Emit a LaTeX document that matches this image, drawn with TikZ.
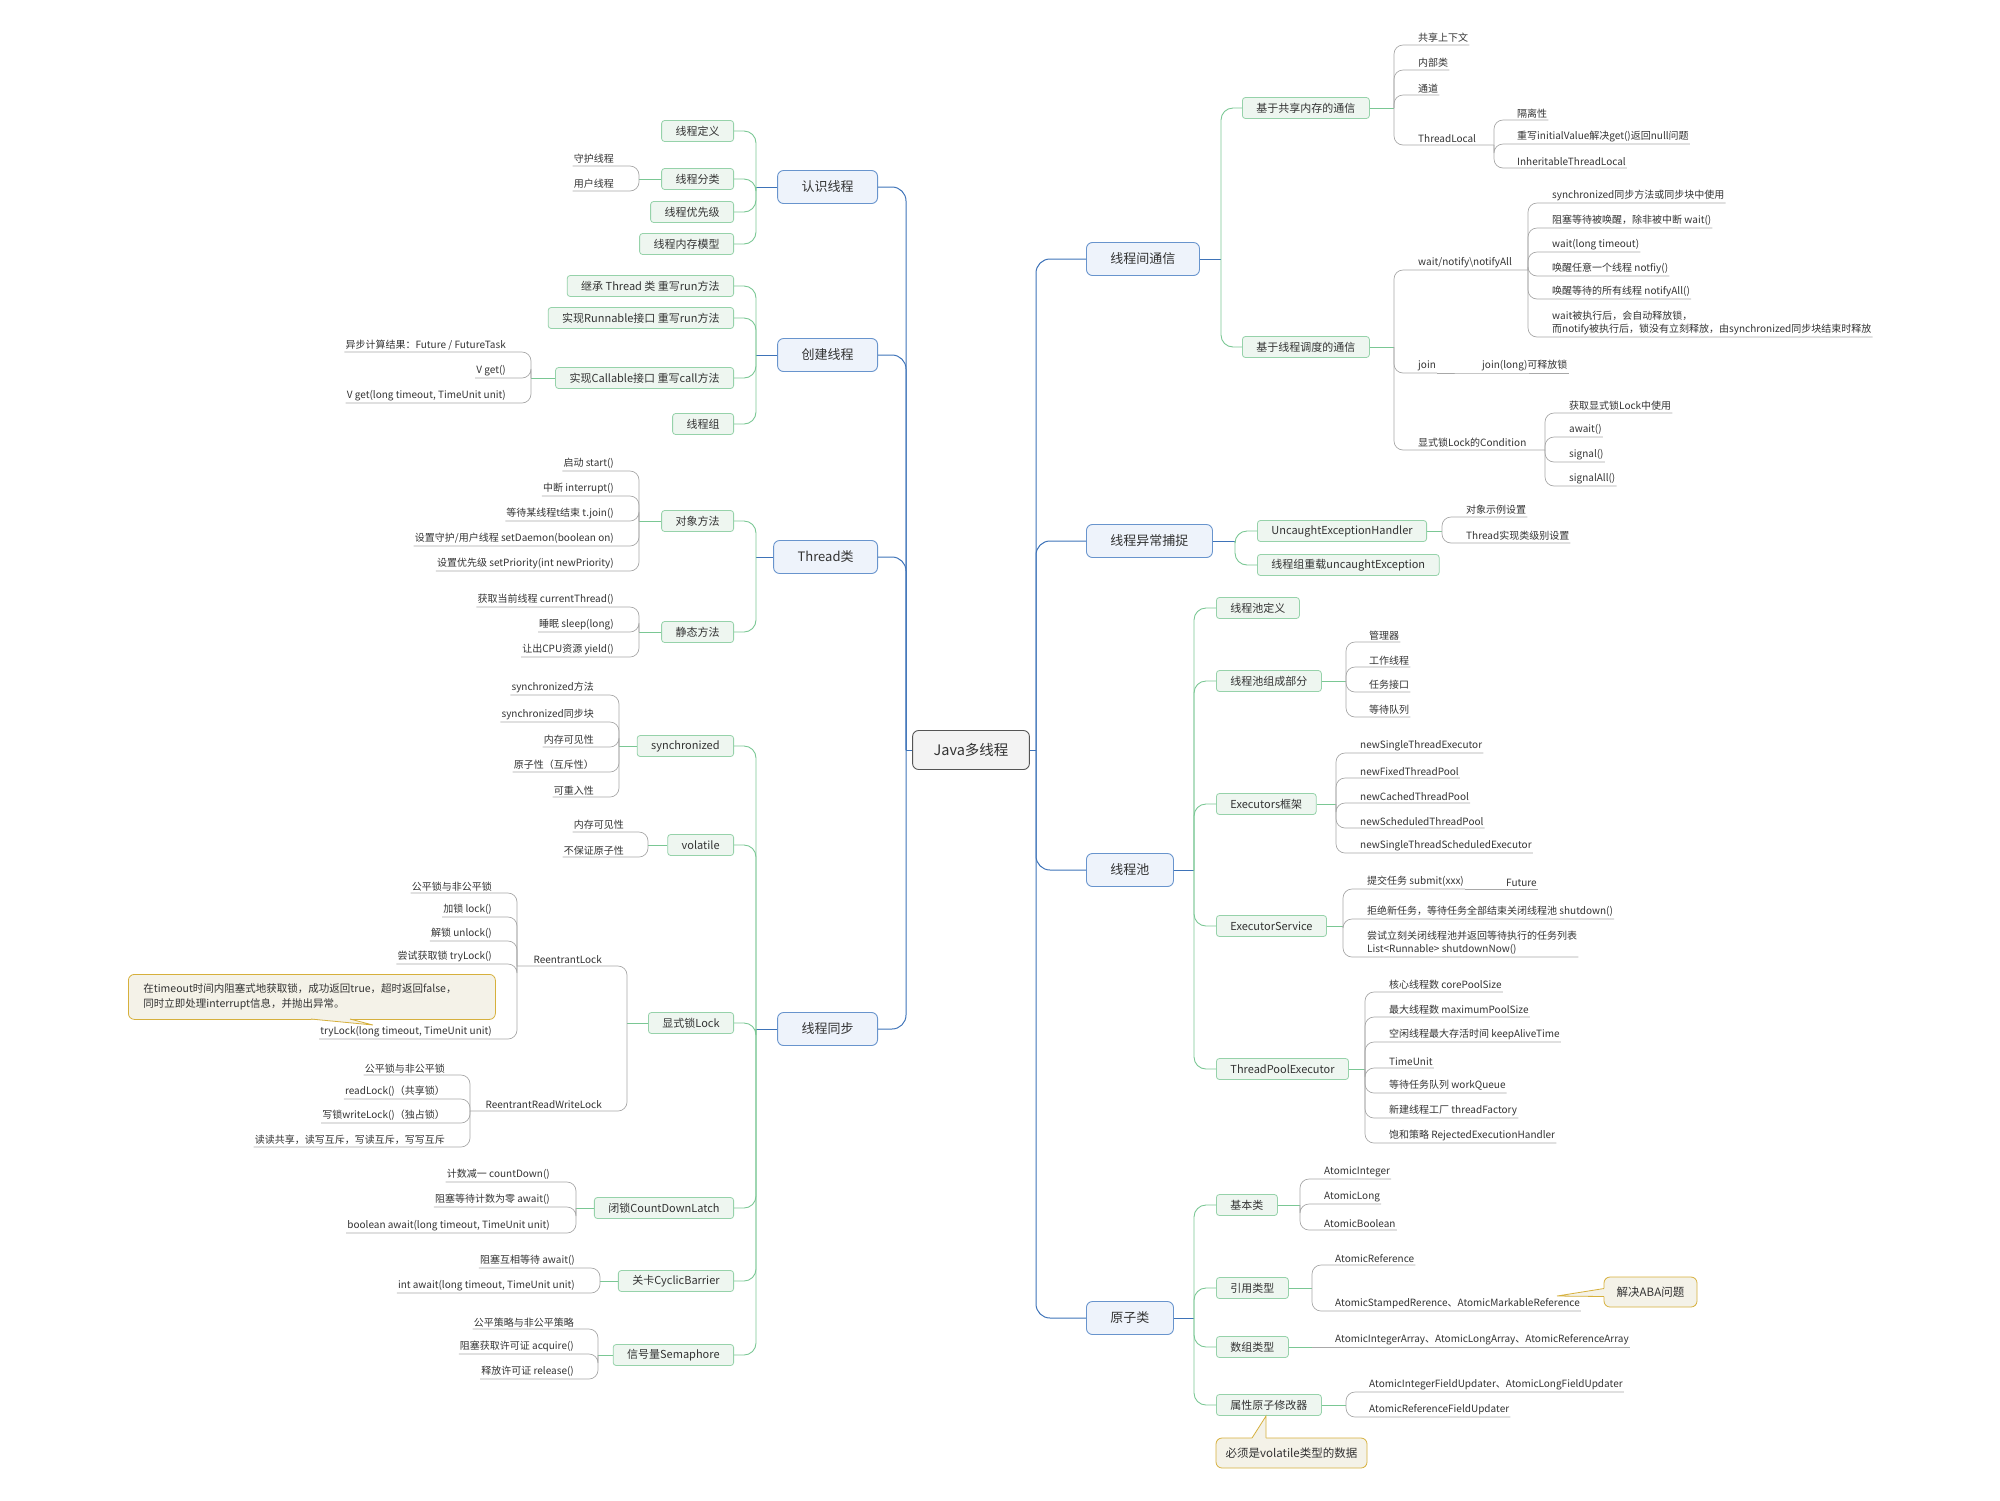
\documentclass[tikz,border=0pt]{standalone}
\usepackage{fontspec}
\setmainfont{Noto Sans CJK SC}
\usepackage{tikz}
\usepackage{xcolor}
\definecolor{txt}{RGB}{51,51,51}
\definecolor{blueln}{RGB}{62,115,184}
\definecolor{bluebd}{RGB}{104,148,205}
\definecolor{bluebg}{RGB}{238,243,251}
\definecolor{greenln}{RGB}{122,199,148}
\definecolor{greenbd}{RGB}{150,210,170}
\definecolor{greenbg}{RGB}{238,246,240}
\definecolor{greyln}{RGB}{168,168,168}
\definecolor{rootbd}{RGB}{85,85,85}
\definecolor{rootbg}{RGB}{243,243,243}
\definecolor{notebd}{RGB}{214,176,60}
\definecolor{notebg}{RGB}{244,242,232}

\begin{document}
\begin{tikzpicture}[x=1pt,y=-1pt,every node/.style={text=txt},
 rootbox/.style={draw=rootbd,fill=rootbg,rounded corners=6pt,line width=0.9pt,inner xsep=21pt,minimum height=39pt,font=\fontsize{14.5}{17}\selectfont},
 mainbox/.style={draw=bluebd,fill=bluebg,rounded corners=6pt,line width=0.9pt,inner xsep=24pt,minimum height=33pt,font=\fontsize{13}{15}\selectfont},
 subbox/.style={draw=greenbd,fill=greenbg,rounded corners=3pt,line width=0.8pt,inner xsep=14pt,minimum height=21pt,font=\fontsize{11}{13}\selectfont},
 leaf/.style={inner xsep=1pt,inner ysep=2pt,align=left,font=\fontsize{10}{13}\selectfont},
 notebox/.style={draw=notebd,fill=notebg,rounded corners=6pt,line width=0.8pt,align=left},
 mainline/.style={draw=blueln,line width=1pt,rounded corners=14pt},
 subline/.style={draw=greenln,line width=0.9pt,rounded corners=12pt},
 leafline/.style={draw=greyln,line width=0.7pt,rounded corners=9pt}]
\useasboundingbox (0,0) rectangle (2000,1500);

% root
\node[rootbox] (root) at (971,750) {Java多线程};
\draw[mainline] (root.west) -- (906,750) coordinate (lt);
\draw[mainline] (root.east) -- (1036,750) coordinate (rt);

% left main branches
\node[mainbox,anchor=east] (know) at (878,187) {认识线程};
\node[mainbox,anchor=east] (create) at (878,355) {创建线程};
\node[mainbox,anchor=east] (thread) at (878,557) {Thread类};
\node[mainbox,anchor=east] (sync) at (878,1029) {线程同步};
\foreach \m in {know,create,thread,sync}
  \draw[mainline] (lt) |- (\m.east);

% right main branches
\node[mainbox,anchor=west] (comm) at (1086,259) {线程间通信};
\node[mainbox,anchor=west] (catch) at (1086,541) {线程异常捕捉};
\node[mainbox,anchor=west] (pool) at (1086,870) {线程池};
\node[mainbox,anchor=west] (atomic) at (1086,1318) {原子类};
\foreach \m in {comm,catch,pool,atomic}
  \draw[mainline] (rt) |- (\m.west);

% 认识线程
\draw[mainline] (know.west) -- (756,187) coordinate (fknow);
\foreach \yy/\lbl [count=\i] in {131/线程定义,179/线程分类,212/线程优先级,244/线程内存模型}{
  \node[subbox,anchor=east] (know\i) at (734,\yy) {\lbl};
  \draw[subline] (fknow) |- (know\i.east);
}
\draw[subline] (know2.west) -- (639,179) coordinate (fsort);
\foreach \yy/\lbl [count=\i] in {166/守护线程,191/用户线程}{
  \node[leaf,anchor=south east] (sort\i) at (615,\yy) {\lbl};
  \draw[leafline] (fsort) |- (sort\i.south east) -- (sort\i.south west);
}

% 创建线程
\draw[mainline] (create.west) -- (756,355) coordinate (fcreate);
\foreach \yy/\lbl [count=\i] in {286/继承 Thread 类 重写run方法,318/实现Runnable接口 重写run方法,378/实现Callable接口 重写call方法,424/线程组}{
  \node[subbox,anchor=east] (create\i) at (734,\yy) {\lbl};
  \draw[subline] (fcreate) |- (create\i.east);
}
\draw[subline] (create3.west) -- (531,378) coordinate (fcall);
\foreach \yy/\lbl [count=\i] in {352/{异步计算结果：Future / FutureTask},378/V get(),403/{V get(long timeout, TimeUnit unit)}}{
  \node[leaf,anchor=south east] (call\i) at (507,\yy) {\lbl};
  \draw[leafline] (fcall) |- (call\i.south east) -- (call\i.south west);
}

% Thread类
\draw[mainline] (thread.west) -- (756,557) coordinate (fthread);
\foreach \yy/\lbl [count=\i] in {521/对象方法,632/静态方法}{
  \node[subbox,anchor=east] (thread\i) at (734,\yy) {\lbl};
  \draw[subline] (fthread) |- (thread\i.east);
}
\draw[subline] (thread1.west) -- (639,521) coordinate (fobj);
\foreach \yy/\lbl [count=\i] in {471/启动 start(),496/中断 interrupt(),521/等待某线程t结束 t.join(),546/{设置守护/用户线程 setDaemon(boolean on)},571/设置优先级 setPriority(int newPriority)}{
  \node[leaf,anchor=south east] (obj\i) at (615,\yy) {\lbl};
  \draw[leafline] (fobj) |- (obj\i.south east) -- (obj\i.south west);
}
\draw[subline] (thread2.west) -- (639,632) coordinate (fstatic);
\foreach \yy/\lbl [count=\i] in {607/获取当前线程 currentThread(),632/睡眠 sleep(long),657/让出CPU资源 yield()}{
  \node[leaf,anchor=south east] (static\i) at (615,\yy) {\lbl};
  \draw[leafline] (fstatic) |- (static\i.south east) -- (static\i.south west);
}

% 线程同步
\draw[mainline] (sync.west) -- (756,1029) coordinate (fsync);
\foreach \yy/\lbl [count=\i] in {746/synchronized,845/volatile,1023/显式锁Lock,1208/闭锁CountDownLatch,1281/关卡CyclicBarrier,1355/信号量Semaphore}{
  \node[subbox,anchor=east] (sync\i) at (734,\yy) {\lbl};
  \draw[subline] (fsync) |- (sync\i.east);
}
\draw[subline] (sync1.west) -- (619,746) coordinate (fsyn);
\foreach \yy/\lbl [count=\i] in {695/synchronized方法,722/synchronized同步块,747/内存可见性,772/原子性（互斥性）,797/可重入性}{
  \node[leaf,anchor=south east] (syn\i) at (595,\yy) {\lbl};
  \draw[leafline] (fsyn) |- (syn\i.south east) -- (syn\i.south west);
}
\draw[subline] (sync2.west) -- (648,845) coordinate (fvol);
\foreach \yy/\lbl [count=\i] in {832/内存可见性,857/不保证原子性}{
  \node[leaf,anchor=south east] (vol\i) at (625,\yy) {\lbl};
  \draw[leafline] (fvol) |- (vol\i.south east) -- (vol\i.south west);
}
\draw[subline] (sync3.west) -- (627,1023) coordinate (flock);
\node[leaf,anchor=south east] (rlock) at (603,966) {ReentrantLock};
\node[leaf,anchor=south east] (rwlock) at (603,1111) {ReentrantReadWriteLock};
\draw[leafline] (flock) |- (rlock.south east) -- (517,966) coordinate (frlock);
\draw[leafline] (flock) |- (rwlock.south east) -- (470,1111) coordinate (frwlock);
\foreach \yy/\lbl [count=\i] in {893/公平锁与非公平锁,917/加锁 lock(),941/解锁 unlock(),964/尝试获取锁 tryLock(),1039/{tryLock(long timeout, TimeUnit unit)}}{
  \node[leaf,anchor=south east] (rl\i) at (493,\yy) {\lbl};
  \draw[leafline] (frlock) |- (rl\i.south east) -- (rl\i.south west);
}
\foreach \yy/\lbl [count=\i] in {1075/公平锁与非公平锁,1099/readLock()（共享锁）,1123/写锁writeLock()（独占锁）,1147/读读共享，读写互斥，写读互斥，写写互斥}{
  \node[leaf,anchor=south east] (rw\i) at (446,\yy) {\lbl};
  \draw[leafline] (frwlock) |- (rw\i.south east) -- (rw\i.south west);
}
\node[notebox,anchor=north west,text width=337pt,inner xsep=15pt,minimum height=45pt,font=\fontsize{10.5}{15}\selectfont] (trynote) at (128,974)
  {在timeout时间内阻塞式地获取锁，成功返回true，超时返回false，\\同时立即处理interrupt信息，并抛出异常。};
\fill[notebg] (311,1016) -- (311,1019.4) -- (373,1025) -- (350,1019.4) -- (350,1016) -- cycle;
\draw[notebd,line width=0.8pt] (311,1019) -- (373,1025) -- (350,1019);
\draw[subline] (sync4.west) -- (576,1208) coordinate (flatch);
\foreach \yy/\lbl [count=\i] in {1182/计数减一 countDown(),1207/阻塞等待计数为零 await(),1233/{boolean await(long timeout, TimeUnit unit)}}{
  \node[leaf,anchor=south east] (latch\i) at (551,\yy) {\lbl};
  \draw[leafline] (flatch) |- (latch\i.south east) -- (latch\i.south west);
}
\draw[subline] (sync5.west) -- (600,1281) coordinate (fbar);
\foreach \yy/\lbl [count=\i] in {1268/阻塞互相等待 await(),1293/{int await(long timeout,  TimeUnit unit)}}{
  \node[leaf,anchor=south east] (bar\i) at (576,\yy) {\lbl};
  \draw[leafline] (fbar) |- (bar\i.south east) -- (bar\i.south west);
}
\draw[subline] (sync6.west) -- (598,1355) coordinate (fsem);
\foreach \yy/\lbl [count=\i] in {1329/公平策略与非公平策略,1354/阻塞获取许可证 acquire(),1379/释放许可证 release()}{
  \node[leaf,anchor=south east] (sem\i) at (575,\yy) {\lbl};
  \draw[leafline] (fsem) |- (sem\i.south east) -- (sem\i.south west);
}

% 线程间通信
\draw[mainline] (comm.east) -- (1221,259) coordinate (fcomm);
\foreach \yy/\lbl [count=\i] in {108/基于共享内存的通信,347/基于线程调度的通信}{
  \node[subbox,anchor=west] (comm\i) at (1242,\yy) {\lbl};
  \draw[subline] (fcomm) |- (comm\i.west);
}
\draw[subline] (comm1.east) -- (1394,108) coordinate (fshare);
\foreach \yy/\lbl [count=\i] in {45/共享上下文,70/内部类,95/通道}{
  \node[leaf,anchor=south west] (share\i) at (1417,\yy) {\lbl};
  \draw[leafline] (fshare) |- (share\i.south west) -- (share\i.south east);
}
\node[leaf,anchor=south west] (tlocal) at (1417,145) {ThreadLocal};
\draw[leafline] (fshare) |- (tlocal.south west) -- (1494,145) coordinate (ftlocal);
\foreach \yy/\lbl [count=\i] in {120/隔离性,144/重写initialValue解决get()返回null问题,168/InheritableThreadLocal}{
  \node[leaf,anchor=south west] (tl\i) at (1516,\yy) {\lbl};
  \draw[leafline] (ftlocal) |- (tl\i.south west) -- (tl\i.south east);
}
\draw[subline] (comm2.east) -- (1394,347) coordinate (fsched);
\node[leaf,anchor=south west] (wait) at (1417,270) {wait/notify\textbackslash notifyAll};
\node[leaf,anchor=south west] (join) at (1417,373) {join};
\node[leaf,anchor=south west] (cond) at (1417,450) {显式锁Lock的Condition};
\draw[leafline] (fsched) |- (wait.south west) -- (1528,270) coordinate (fwait);
\draw[leafline] (fsched) |- (join.south west) -- (join.south east);
\draw[leafline] (fsched) |- (cond.south west) -- (1545,450) coordinate (fcond);
\node[leaf,anchor=south west] (joinl) at (1481,373) {join(long)可释放锁};
\draw[leafline] (join.south east) -- (joinl.south west) -- (joinl.south east);
\foreach \yy/\lbl [count=\i] in {203/synchronized同步方法或同步块中使用,228/阻塞等待被唤醒，除非被中断 wait(),252/wait(long timeout),276/唤醒任意一个线程 notfiy(),299/唤醒等待的所有线程 notifyAll(),337/{wait被执行后，会自动释放锁，\\而notify被执行后，锁没有立刻释放，由synchronized同步块结束时释放}}{
  \node[leaf,anchor=south west] (wt\i) at (1551,\yy) {\lbl};
  \draw[leafline] (fwait) |- (wt\i.south west) -- (wt\i.south east);
}
\foreach \yy/\lbl [count=\i] in {413/获取显式锁Lock中使用,437/await(),462/signal(),486/signalAll()}{
  \node[leaf,anchor=south west] (cd\i) at (1568,\yy) {\lbl};
  \draw[leafline] (fcond) |- (cd\i.south west) -- (cd\i.south east);
}

% 线程异常捕捉
\draw[mainline] (catch.east) -- (1235,541) coordinate (fcatch);
\foreach \yy/\lbl [count=\i] in {531/UncaughtExceptionHandler,565/线程组重载uncaughtException}{
  \node[subbox,anchor=west] (catch\i) at (1257,\yy) {\lbl};
  \draw[subline] (fcatch) |- (catch\i.west);
}
\draw[subline] (catch1.east) -- (1442,531) coordinate (fueh);
\foreach \yy/\lbl [count=\i] in {517/对象示例设置,543/Thread实现类级别设置}{
  \node[leaf,anchor=south west] (ueh\i) at (1465,\yy) {\lbl};
  \draw[leafline] (fueh) |- (ueh\i.south west) -- (ueh\i.south east);
}

% 线程池
\draw[mainline] (pool.east) -- (1194,870) coordinate (fpool);
\foreach \yy/\lbl [count=\i] in {608/线程池定义,681/线程池组成部分,804/Executors框架,926/ExecutorService,1069/ThreadPoolExecutor}{
  \node[subbox,anchor=west] (pool\i) at (1216,\yy) {\lbl};
  \draw[subline] (fpool) |- (pool\i.west);
}
\draw[subline] (pool2.east) -- (1346,681) coordinate (fpart);
\foreach \yy/\lbl [count=\i] in {642/管理器,667/工作线程,692/任务接口,717/等待队列}{
  \node[leaf,anchor=south west] (part\i) at (1368,\yy) {\lbl};
  \draw[leafline] (fpart) |- (part\i.south west) -- (part\i.south east);
}
\draw[subline] (pool3.east) -- (1336,804) coordinate (fexec);
\foreach \yy/\lbl [count=\i] in {753/newSingleThreadExecutor,778/newFixedThreadPool,803/newCachedThreadPool,828/newScheduledThreadPool,853/newSingleThreadScheduledExecutor}{
  \node[leaf,anchor=south west] (exec\i) at (1359,\yy) {\lbl};
  \draw[leafline] (fexec) |- (exec\i.south west) -- (exec\i.south east);
}
\draw[subline] (pool4.east) -- (1343,926) coordinate (fserv);
\foreach \yy/\lbl [count=\i] in {889/提交任务 submit(xxx),919/拒绝新任务，等待任务全部结束关闭线程池 shutdown(),957/{尝试立刻关闭线程池并返回等待执行的任务列表\\List<Runnable> shutdownNow()}}{
  \node[leaf,anchor=south west] (serv\i) at (1366,\yy) {\lbl};
  \draw[leafline] (fserv) |- (serv\i.south west) -- (serv\i.south east);
}
\node[leaf,anchor=south west] (future) at (1505,889) {Future};
\draw[leafline] (serv1.south east) -- (future.south west) -- (future.south east);
\draw[subline] (pool5.east) -- (1365,1069) coordinate (ftpe);
\foreach \yy/\lbl [count=\i] in {992/核心线程数 corePoolSize,1017/最大线程数 maximumPoolSize,1042/空闲线程最大存活时间 keepAliveTime,1068/TimeUnit,1093/等待任务队列 workQueue,1118/新建线程工厂 threadFactory,1143/饱和策略 RejectedExecutionHandler}{
  \node[leaf,anchor=south west] (tpe\i) at (1388,\yy) {\lbl};
  \draw[leafline] (ftpe) |- (tpe\i.south west) -- (tpe\i.south east);
}

% 原子类
\draw[mainline] (atomic.east) -- (1194,1318) coordinate (fatomic);
\foreach \yy/\lbl [count=\i] in {1205/基本类,1288/引用类型,1347/数组类型,1405/属性原子修改器}{
  \node[subbox,anchor=west] (atomic\i) at (1216,\yy) {\lbl};
  \draw[subline] (fatomic) |- (atomic\i.west);
}
\draw[subline] (atomic1.east) -- (1300,1205) coordinate (fbasic);
\foreach \yy/\lbl [count=\i] in {1179/AtomicInteger,1204/AtomicLong,1230/AtomicBoolean}{
  \node[leaf,anchor=south west] (basic\i) at (1323,\yy) {\lbl};
  \draw[leafline] (fbasic) |- (basic\i.south west) -- (basic\i.south east);
}
\draw[subline] (atomic2.east) -- (1312,1288) coordinate (fref);
\foreach \yy/\lbl [count=\i] in {1265/AtomicReference,1311/AtomicStampedRerence、AtomicMarkableReference}{
  \node[leaf,anchor=south west] (ref\i) at (1334,\yy) {\lbl};
  \draw[leafline] (fref) |- (ref\i.south west) -- (ref\i.south east);
}
\draw[subline] (atomic3.east) -- (1312,1347) coordinate (farr);
\node[leaf,anchor=south west] (arr1) at (1334,1347) {AtomicIntegerArray、AtomicLongArray、AtomicReferenceArray};
\draw[leafline] (farr) -- (arr1.south west) -- (arr1.south east);
\draw[subline] (atomic4.east) -- (1346,1405) coordinate (ffield);
\foreach \yy/\lbl [count=\i] in {1392/AtomicIntegerFieldUpdater、AtomicLongFieldUpdater,1417/AtomicReferenceFieldUpdater}{
  \node[leaf,anchor=south west] (field\i) at (1368,\yy) {\lbl};
  \draw[leafline] (ffield) |- (field\i.south west) -- (field\i.south east);
}

% notes
\node[notebox,minimum width=93pt,minimum height=30pt,font=\fontsize{11.5}{13}\selectfont] (aba) at (1650.5,1292) {解决ABA问题};
\fill[notebg] (1606,1288) -- (1557,1296) -- (1606,1297) -- cycle;
\draw[notebd,line width=0.8pt] (1604,1288.5) -- (1557,1296) -- (1604,1296.5);
\node[notebox,minimum width=151pt,minimum height=30pt,font=\fontsize{11.5}{13}\selectfont] (volnote) at (1291.5,1453) {必须是volatile类型的数据};
\fill[notebg] (1251,1440) -- (1266,1416) -- (1266,1440) -- cycle;
\draw[notebd,line width=0.8pt] (1252,1438) -- (1266,1416) -- (1266,1438);
\end{tikzpicture}
\end{document}
